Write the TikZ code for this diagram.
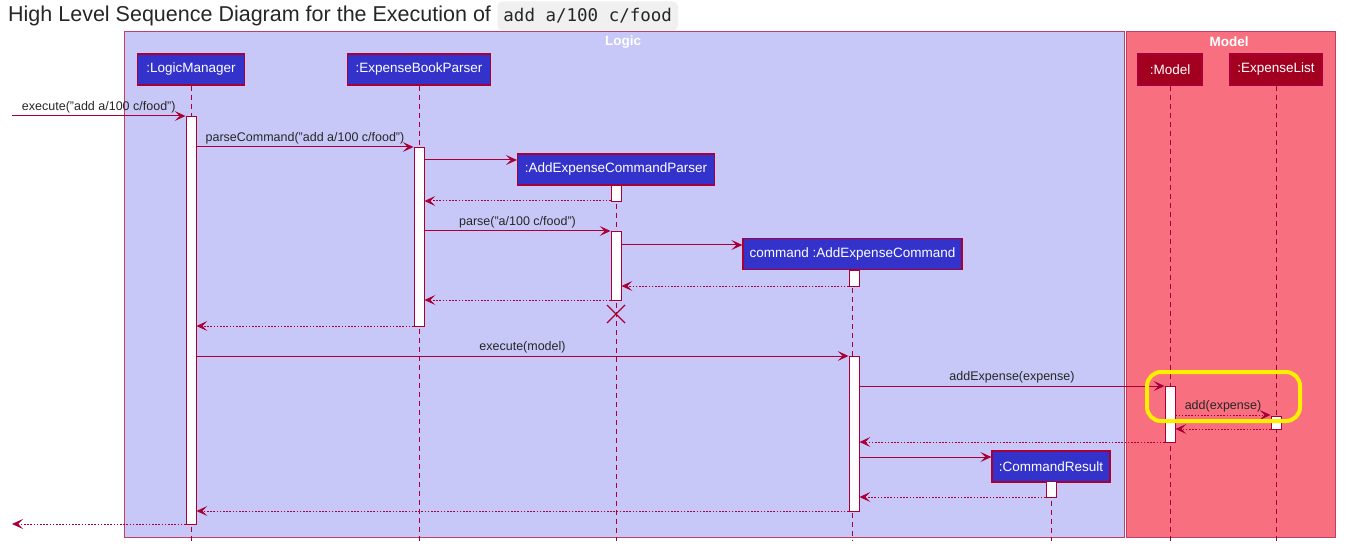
\documentclass[tikz,border=0pt]{standalone}
\usepackage{fontspec}
\setmainfont{Liberation Sans}
\newfontfamily\codefont{DejaVu Sans Mono}
\usetikzlibrary{arrows.meta,positioning}
\definecolor{seqline}{HTML}{A80036}
\definecolor{logicfill}{HTML}{C8C8F8}
\definecolor{modelfill}{HTML}{F8707F}
\definecolor{partblue}{HTML}{3333CC}
\definecolor{partred}{HTML}{A30020}
\definecolor{hilite}{HTML}{FFF000}
\begin{document}
\begin{tikzpicture}
[x=1pt,y=-1pt,
  boxdecorate/.style={draw=seqline!75,line width=1pt},
  partdecorate/.style={draw=seqline,line width=1.2pt,text=white,
    minimum height=31pt,inner sep=0pt,
    font=\fontsize{13.5}{15}\selectfont},
  lifeline/.style={draw=seqline,line width=0.9pt,dash pattern=on 5pt off 4pt},
  actbar/.style={draw=seqline,fill=white,line width=0.9pt,
    minimum width=10pt,inner sep=0pt,anchor=north},
  call/.style={draw=seqline,line width=1pt,
    -{Stealth[length=11pt,width=10pt,inset=5pt]}},
  reply/.style={call,dash pattern=on 1.6pt off 1.6pt},
  msg/.style={above,inner sep=2pt,text=black!85,
    font=\fontsize{12.5}{14}\selectfont}]
\useasboundingbox (0,0) rectangle (1370,553);
%% title
\node (title) at (8,16) [anchor=west,inner sep=0pt,
  font=\fontsize{21.5}{25}\selectfont,text=black!85]
  {High Level Sequence Diagram for the Execution of};
\node (code) [right=6pt of title,fill=black!6,rounded corners=5pt,
  minimum height=29pt,inner xsep=6pt,font=\codefont\fontsize{17.5}{20}\selectfont,
  text=black!85] {add a/100 c/food};
%% boxes
\draw[boxdecorate,fill=logicfill] (124,32) rectangle (1124,537);
\draw[boxdecorate,fill=modelfill] (1126,32) rectangle (1335,537);
\node (logictitle) at (623,42) [text=white,font=\bfseries\fontsize{13.5}{15}\selectfont] {Logic};
\node (modeltitle) at (1229,42) [text=white,font=\bfseries\fontsize{13.5}{15}\selectfont] {Model};
%% participants
\foreach \nodename/\name/\x/\y/\w in {lm/:LogicManager/191/69.5/107,
  ebp/:ExpenseBookParser/419/69.5/143, aecp/:AddExpenseCommandParser/616/169.5/197,
  aec/command :AddExpenseCommand/852.5/254/219, cr/:CommandResult/1051/466.5/118} {
  \node (\nodename) at (\x,\y) [partdecorate,fill=partblue,minimum width=\w] {\name};
}
\foreach \nodename/\name/\x/\w in {mdl/:Model/1170/64, el/:ExpenseList/1276/92} {
  \node (\nodename) at (\x,69.5) [partdecorate,fill=partred,minimum width=\w] {\name};
}
%% lifelines
\foreach \nodename in {lm,ebp,aecp,aec,cr,mdl,el} {
  \draw[lifeline] (\nodename.south) -- (\nodename.south |- 0,541);
}
%% activations
\foreach \nodename/\x/\top/\bot in {lmA/191/116/524, ebpA/419/147/326,
  aecpA/616/185/201, aecpB/616/231/300, aecA/854/270/286, aecB/854/356/511,
  mdlA/1170/386/442, elA/1276/416/429, crA/1051/481/497} {
  \node (\nodename) at (\x,\top) [actbar,minimum height={(\bot-\top)*1pt}] {};
}
\coordinate (start) at (12,116);
\coordinate (finish) at (12,524);
%% messages
\draw[call] (start) -- (lmA.west |- 0,116)
  node[msg,midway] {execute("add a/100 c/food")};
\draw[call] (lmA.east |- 0,147) -- (ebpA.west |- 0,147)
  node[msg,midway] {parseCommand("add a/100 c/food")};
\draw[call] (ebpA.east |- 0,160) -- (aecp.west |- 0,160);
\draw[reply] (aecpA.west |- 0,201) -- (ebpA.east |- 0,201);
\draw[call] (ebpA.east |- 0,231) -- (aecpB.west |- 0,231)
  node[msg,midway] {parse("a/100 c/food")};
\draw[call] (aecpB.east |- 0,245) -- (aec.west |- 0,245);
\draw[reply] (aecA.west |- 0,286) -- (aecpB.east |- 0,286);
\draw[reply] (aecpB.west |- 0,300) -- (ebpA.east |- 0,300);
\draw[seqline,line width=1.3pt] (607,305) -- (625,323) (607,323) -- (625,305);
\draw[reply] (ebpA.west |- 0,326) -- (lmA.east |- 0,326);
\draw[call] (lmA.east |- 0,356) -- (aecB.west |- 0,356)
  node[msg,midway] {execute(model)};
\draw[call] (aecB.east |- 0,386) -- (mdlA.west |- 0,386)
  node[msg,midway] {addExpense(expense)};
\draw[reply] (mdlA.east |- 0,415) -- (elA.west |- 0,415)
  node[msg,midway] {add(expense)};
\draw[reply] (elA.west |- 0,429) -- (mdlA.east |- 0,429);
\draw[reply] (mdlA.west |- 0,442) -- (aecB.east |- 0,442);
\draw[call] (aecB.east |- 0,457) -- (cr.west |- 0,457);
\draw[reply] (crA.west |- 0,497) -- (aecB.east |- 0,497);
\draw[reply] (aecB.west |- 0,511) -- (lmA.east |- 0,511);
\draw[reply] (lmA.west |- 0,524) -- (finish);
%% highlight
\draw[hilite,line width=4pt,rounded corners=14pt] (1147,372) rectangle (1300,421);
\end{tikzpicture}
\end{document}
